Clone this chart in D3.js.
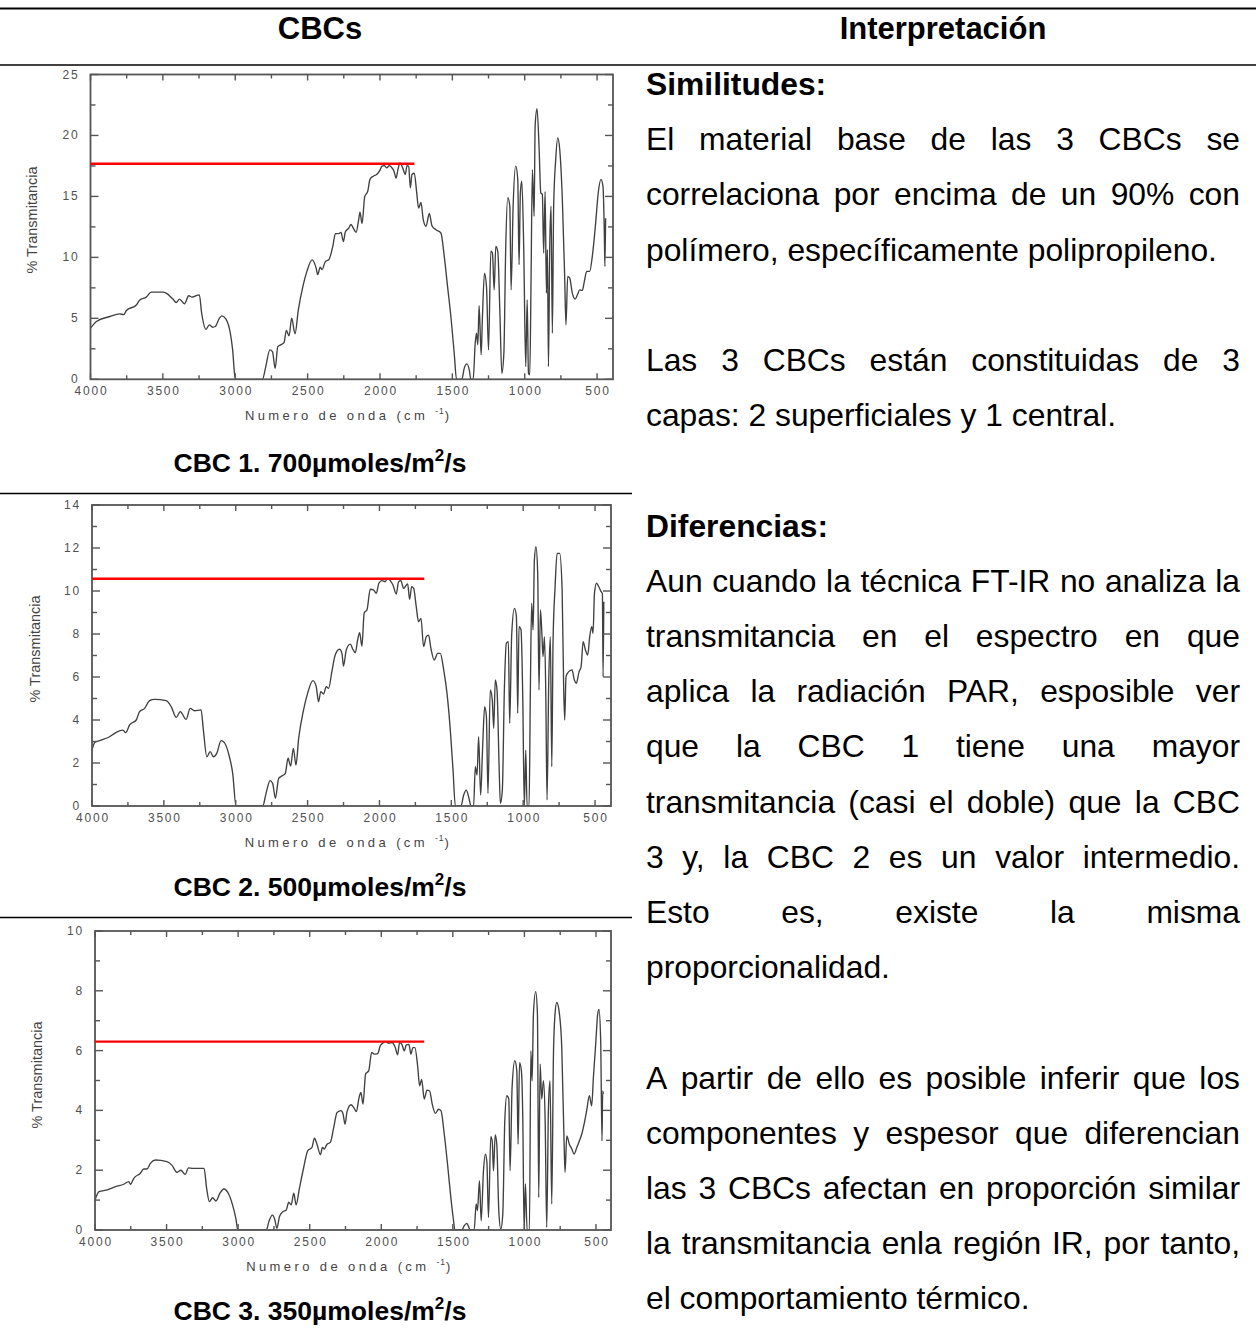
<!DOCTYPE html>
<html><head><meta charset="utf-8">
<script src="https://cdn.jsdelivr.net/npm/d3@7"></script>
<style>body{margin:0;background:#fff}svg{display:block}</style>
</head><body>
<svg id="c" width="1256" height="1339"></svg>
<script>
// ---------- DATA ----------
const cbc1Wavenumber = [4000,3959,3867,3798,3770,3752,3683,3660,3615,3580,3500,3477,3431,3408,3385,3351,3321,3298,3248,3232,3202,3179,3156,3138,3110,3092,3064,3034,3018,3002,2992,2812,2789,2761,2743,2724,2706,2686,2663,2647,2628,2610,2587,2564,2533,2505,2469,2441,2430,2413,2400,2377,2354,2326,2308,2285,2269,2253,2239,2216,2200,2184,2165,2147,2138,2124,2105,2085,2069,2046,2023,2004,1986,1970,1954,1935,1917,1903,1889,1876,1862,1843,1825,1813,1802,1790,1779,1763,1747,1733,1717,1701,1682,1659,1641,1613,1579,1556,1533,1510,1487,1471,1434,1418,1400,1383,1372,1356,1342,1333,1324,1315,1301,1292,1278,1264,1250,1234,1223,1211,1200,1186,1172,1158,1144,1131,1117,1103,1094,1080,1062,1048,1039,1030,1020,1007,993,983,974,965,956,947,935,928,915,901,889,878,869,859,850,843,836,827,818,809,800,786,772,758,740,724,715,703,689,671,652,636,620,602,588,572,551,533,510,492,473,459,450,446,441];
const cbc1Transmittance = [4.19,4.74,5.15,5.37,5.3,5.64,6.1,6.5,6.74,7.15,7.15,7.07,6.58,6.3,6.58,6.2,6.85,6.74,6.93,5.42,4.1,4.47,4.27,4.33,5.0,5.2,4.93,3.78,2.41,0.2,0,0,1.04,2.41,2.27,0.9,2.68,2.82,3.01,4.0,3.56,5.01,3.73,5.7,7.6,8.85,9.8,9.12,8.58,9.2,9.0,9.67,9.8,10.9,11.95,11.95,12.05,11.3,12.1,12.4,12.7,12.4,12.05,13.1,13.7,12.77,15.0,15.4,16.4,16.66,16.8,17.07,17.48,17.53,17.34,17.53,17.34,17.07,16.5,17.2,17.75,17.34,16.8,17.53,17.48,15.7,16.8,16.9,15.4,14.05,14.5,13.1,12.55,13.6,12.6,12.27,12.0,10.1,7.6,5.15,2.14,0,0,0.9,1.26,0.77,0,0,2.96,3.78,2.82,6.03,2.0,5.15,8.71,7.6,2.41,10.5,10.36,7.34,10.9,10.5,5.7,0.49,2.14,10.9,14.9,14.2,7.34,14.2,17.48,16.4,9.4,15.3,16.25,10.9,1.04,6.52,0.49,0.36,8.44,17.2,13.37,20.77,22.2,19.1,15.3,15.15,10.36,15.4,7.07,10.63,1.04,10.9,14.2,3.78,14.2,18.0,19.8,18.85,14.74,8.44,4.47,8.44,8.3,7.07,6.58,6.93,7.34,7.29,8.03,8.85,8.85,10.08,12.8,15.3,16.4,15.8,12.0,9.26,13.2];

const cbc2Wavenumber = [4000,3981,3947,3877,3843,3785,3766,3738,3692,3669,3634,3600,3565,3484,3449,3414,3386,3345,3317,3287,3241,3225,3201,3178,3155,3132,3102,3079,3044,3021,2998,2812,2789,2761,2743,2724,2701,2678,2655,2636,2618,2599,2581,2562,2528,2500,2463,2440,2424,2408,2389,2370,2354,2331,2308,2278,2261,2250,2231,2203,2185,2168,2152,2138,2122,2106,2087,2064,2041,2022,2004,1983,1960,1943,1925,1906,1883,1867,1851,1832,1813,1804,1790,1776,1762,1744,1728,1711,1693,1674,1658,1642,1619,1595,1577,1553,1530,1507,1488,1472,1433,1414,1396,1377,1363,1345,1333,1321,1310,1296,1282,1268,1256,1245,1229,1215,1205,1194,1182,1168,1159,1145,1131,1117,1103,1094,1080,1061,1047,1038,1029,1015,1003,992,982,973,959,950,941,931,922,911,899,890,880,871,862,852,843,834,822,811,801,792,778,764,746,729,718,711,702,683,660,644,630,611,597,583,567,551,537,523,514,504,490,474,458,449,444,439];
const cbc2Transmittance = [2.6,2.95,3.04,3.22,3.38,3.53,3.41,3.77,4.0,4.39,4.54,4.9,4.96,4.9,4.62,4.12,4.39,4.03,4.54,4.43,4.47,3.53,2.29,2.53,2.29,2.45,3.04,2.95,2.29,1.52,0,0,0.59,1.18,1.05,0.36,1.29,1.4,1.52,2.22,1.86,2.68,1.9,3.15,4.47,5.24,5.83,5.55,4.85,5.32,5.21,5.55,5.47,6.25,7.02,7.29,7.1,6.51,7.26,7.53,7.29,7.13,7.72,8.06,7.44,8.99,9.12,10.08,10.05,9.89,10.36,10.48,10.43,10.59,10.48,10.28,9.86,10.43,10.48,10.12,10.28,10.33,9.61,10.2,10.12,9.27,8.57,8.73,7.41,7.88,7.95,7.33,6.79,7.1,7.1,6.33,5.24,3.53,1.67,0,0,0.51,0.74,0.36,0,0,1.83,1.44,3.22,0.51,2.76,4.62,4.16,0.59,5.4,4.93,3.61,5.86,5.4,1.98,0.12,0.74,5.4,7.57,7.64,3.84,7.95,9.19,8.81,4.31,8.34,8.19,5.09,0,2.6,0,0,5.4,9.43,8.19,11.44,12.06,10.82,5.4,9.12,8.19,6.95,7.88,5.4,0.28,5.86,7.88,1.83,7.72,10.2,11.75,11.75,10.05,5.4,4.0,6.02,6.25,6.33,5.86,5.71,6.25,6.48,7.64,7.26,7.02,7.88,8.34,8.03,9.89,10.36,10.2,9.97,9.89,6.02,9.5];

const cbc3Wavenumber = [4000,3972,3914,3856,3799,3764,3752,3729,3683,3660,3637,3613,3579,3498,3463,3428,3400,3370,3347,3317,3271,3238,3220,3201,3178,3155,3127,3099,3069,3039,3016,3002,2803,2785,2761,2745,2729,2711,2687,2664,2646,2630,2611,2595,2572,2542,2514,2484,2467,2449,2425,2411,2398,2379,2356,2332,2309,2281,2267,2253,2239,2211,2193,2174,2156,2142,2128,2109,2088,2067,2049,2025,2007,1984,1965,1949,1925,1902,1886,1872,1856,1839,1825,1807,1793,1779,1765,1746,1732,1718,1700,1681,1662,1644,1621,1600,1583,1560,1537,1514,1495,1486,1437,1421,1402,1388,1379,1351,1337,1328,1314,1302,1286,1272,1262,1251,1235,1225,1216,1204,1193,1179,1165,1151,1137,1123,1109,1100,1086,1067,1053,1044,1034,1021,1011,1002,993,981,965,955,946,937,921,909,900,890,879,867,855,844,832,821,809,797,786,774,755,739,723,716,704,686,669,653,634,616,599,583,565,546,530,518,502,488,479,467,458,453,448];
const cbc3Transmittance = [1.0,1.28,1.34,1.45,1.53,1.62,1.53,1.73,1.9,2.04,2.04,2.23,2.34,2.29,2.17,1.93,2.0,1.86,2.08,2.06,2.06,2.06,1.39,0.95,1.08,0.97,1.23,1.37,1.23,0.84,0.39,0,0,0.28,0.5,0.37,0.06,0.45,0.61,0.67,0.93,0.84,1.23,0.84,1.39,2.09,2.65,2.76,3.07,2.87,2.52,2.76,2.71,2.87,2.93,3.43,3.93,3.99,3.88,3.54,3.96,4.19,4.1,3.96,4.41,4.6,4.21,5.23,5.32,5.94,5.88,5.9,6.16,6.27,6.3,6.24,6.27,6.1,5.86,6.27,6.21,5.99,6.19,6.21,5.88,6.1,6.1,5.49,4.82,5.04,4.38,4.68,4.65,4.21,3.9,4.04,3.99,3.21,2.2,1.09,0.31,0,0,0.14,0.22,0.09,0,0,0.87,0.65,1.65,0.31,1.98,2.54,2.26,0.42,3.12,2.98,1.98,3.18,2.87,0.65,0.03,0.53,3.65,4.49,4.38,1.98,4.77,5.66,5.32,2.87,5.6,5.32,3.65,0,1.54,0,0,5.99,4.99,7.22,7.97,7.22,1.09,5.55,4.38,4.99,3.65,0.09,4.1,4.99,0.87,5.88,7.22,7.61,7.22,6.1,2.98,1.93,3.15,2.87,2.71,2.54,2.76,2.98,3.21,3.54,3.99,4.49,4.15,5.1,6.21,7.22,7.38,6.33,2.98,4.65,4.55];

const xTickLabels = [4000,3500,3000,2500,2000,1500,1000,500];
const xMinorTicks = [3750,3250,2750,2250,1750,1250,750];
const cbc1YTicks = [0,5,10,15,20,25];
const cbc2YTicks = [0,2,4,6,8,10,12,14];
const cbc3YTicks = [0,2,4,6,8,10];
const referenceLevels = [17.68, 10.57, 6.3];      // red reference line values (% T)
const referenceEnds = [1762, 1688, 1700];          // wavenumber where red line stops
const captionTexts = ["CBC 1. 700µmoles/m", "CBC 2. 500µmoles/m", "CBC 3. 350µmoles/m"];
const headerLabels = ["CBCs", "Interpretación"];
const yAxisTitle = "% Transmitancia";
const xAxisTitle = "Numero de onda (cm";

const interpretationLines = [
  {t:"Similitudes:", b:true, j:false},
  {t:"El material base de las 3 CBCs se", j:true},
  {t:"correlaciona por encima de un 90% con", j:true},
  {t:"polímero, específicamente polipropileno.", j:false},
  null,
  {t:"Las 3 CBCs están constituidas de 3", j:true},
  {t:"capas: 2 superficiales y 1 central.", j:false},
  null,
  {t:"Diferencias:", b:true, j:false},
  {t:"Aun cuando la técnica FT-IR no analiza la", j:true},
  {t:"transmitancia en el espectro en que", j:true},
  {t:"aplica la radiación PAR, esposible ver", j:true},
  {t:"que la CBC 1 tiene una mayor", j:true},
  {t:"transmitancia (casi el doble) que la CBC", j:true},
  {t:"3 y, la CBC 2 es un valor intermedio.", j:true},
  {t:"Esto es, existe la misma", j:true},
  {t:"proporcionalidad.", j:false},
  null,
  {t:"A partir de ello es posible inferir que los", j:true},
  {t:"componentes y espesor que diferencian", j:true},
  {t:"las 3 CBCs afectan en proporción similar", j:true},
  {t:"la transmitancia enla región IR, por tanto,", j:true},
  {t:"el comportamiento térmico.", j:false}
];

// ---------- LAYOUT ----------
const FONT = "'Liberation Sans', Arial, Helvetica, sans-serif";
const svg = d3.select("#c");
const AX = "#555";

// table rules
svg.append("line").attr("x1",0).attr("x2",1256).attr("y1",8.5).attr("y2",8.5).attr("stroke","#000").attr("stroke-width",2);
svg.append("line").attr("x1",0).attr("x2",1256).attr("y1",65).attr("y2",65).attr("stroke","#000").attr("stroke-width",1.6);
[493.5, 917.5].forEach(y => svg.append("line").attr("x1",0).attr("x2",632).attr("y1",y).attr("y2",y).attr("stroke","#000").attr("stroke-width",1.4));

// headers
svg.append("text").attr("x",320).attr("y",39).attr("text-anchor","middle").attr("font-family",FONT)
  .attr("font-weight","bold").attr("font-size",31).text(headerLabels[0]);
svg.append("text").attr("x",943).attr("y",39).attr("text-anchor","middle").attr("font-family",FONT)
  .attr("font-weight","bold").attr("font-size",31).text(headerLabels[1]);

const layouts = [
  {left:90.5, right:613, top:74.5, bottom:379.3, xEnd:390, yLabelX:32, yLabelY:220, captionY:472},
  {left:92, right:611, top:505, bottom:806, xEnd:389, yLabelX:35, yLabelY:649, captionY:896},
  {left:95, right:611, top:931, bottom:1230, xEnd:395, yLabelX:37, yLabelY:1075, captionY:1320}
];
const series = [
  {wn:cbc1Wavenumber, t:cbc1Transmittance, yTicks:cbc1YTicks},
  {wn:cbc2Wavenumber, t:cbc2Transmittance, yTicks:cbc2YTicks},
  {wn:cbc3Wavenumber, t:cbc3Transmittance, yTicks:cbc3YTicks}
];

series.forEach((s, i) => {
  const L = layouts[i];
  const yMax = d3.max(s.yTicks);
  const x = d3.scaleLinear().domain([4000, L.xEnd]).range([L.left, L.right]);
  const y = d3.scaleLinear().domain([0, yMax]).range([L.bottom, L.top]);
  const g = svg.append("g");
  const step = s.yTicks[1] - s.yTicks[0];
  const yMinor = d3.range(step/2, yMax, step);

  const clipId = "clip" + i;
  svg.append("clipPath").attr("id", clipId).append("rect")
    .attr("x", L.left).attr("y", L.top).attr("width", L.right - L.left).attr("height", L.bottom - L.top);

  // spectrum
  const pts = s.wn.map((w, k) => [w, s.t[k]]);
  const line = d3.line().x(d => x(d[0])).y(d => y(d[1])).curve(d3.curveMonotoneX);
  g.append("path").datum(pts).attr("d", line).attr("fill","none")
    .attr("stroke","#404040").attr("stroke-width",1.35).attr("stroke-linejoin","round")
    .attr("clip-path",`url(#${clipId})`);

  // ticks (inward) on all four sides
  const tk = g.append("g").attr("stroke", AX).attr("stroke-width", 1.4);
  xTickLabels.forEach(v => {
    tk.append("line").attr("x1",x(v)).attr("x2",x(v)).attr("y1",L.bottom).attr("y2",L.bottom-6);
    tk.append("line").attr("x1",x(v)).attr("x2",x(v)).attr("y1",L.top).attr("y2",L.top+6);
  });
  xMinorTicks.forEach(v => {
    tk.append("line").attr("x1",x(v)).attr("x2",x(v)).attr("y1",L.bottom).attr("y2",L.bottom-4);
    tk.append("line").attr("x1",x(v)).attr("x2",x(v)).attr("y1",L.top).attr("y2",L.top+4);
  });
  s.yTicks.forEach(v => {
    tk.append("line").attr("x1",L.left).attr("x2",L.left+8).attr("y1",y(v)).attr("y2",y(v));
    tk.append("line").attr("x1",L.right).attr("x2",L.right-8).attr("y1",y(v)).attr("y2",y(v));
  });
  yMinor.forEach(v => {
    tk.append("line").attr("x1",L.left).attr("x2",L.left+5).attr("y1",y(v)).attr("y2",y(v));
    tk.append("line").attr("x1",L.right).attr("x2",L.right-5).attr("y1",y(v)).attr("y2",y(v));
  });

  // frame
  g.append("rect").attr("x",L.left).attr("y",L.top).attr("width",L.right-L.left).attr("height",L.bottom-L.top)
    .attr("fill","none").attr("stroke",AX).attr("stroke-width",1.8);

  // red reference line
  g.append("line").attr("x1",L.left).attr("x2",x(referenceEnds[i]))
    .attr("y1",y(referenceLevels[i])).attr("y2",y(referenceLevels[i]))
    .attr("stroke","#ff0000").attr("stroke-width",2.4);

  // tick labels
  xTickLabels.forEach(v => {
    g.append("text").attr("x",x(v)+1).attr("y",L.bottom+16).attr("text-anchor","middle")
      .attr("font-family",FONT).attr("font-size",12).attr("letter-spacing","1.8px").attr("fill","#505050").text(v);
  });
  s.yTicks.forEach(v => {
    g.append("text").attr("x",L.left-11).attr("y",y(v)+4).attr("text-anchor","end")
      .attr("font-family",FONT).attr("font-size",12).attr("letter-spacing","1.8px").attr("fill","#505050").text(v);
  });

  // axis titles
  const xt = g.append("text").attr("x",(L.left+L.right)/2 - 3).attr("y",L.bottom+41).attr("text-anchor","middle")
    .attr("font-family",FONT).attr("font-size",13).attr("letter-spacing","3.4px").attr("fill","#444");
  xt.append("tspan").text(xAxisTitle + " ");
  xt.append("tspan").attr("font-size",8.5).attr("dy",-6).attr("letter-spacing","1px").text("-1");
  xt.append("tspan").attr("dy",6).text(")");

  g.append("text").attr("transform",`translate(${L.yLabelX},${L.yLabelY}) rotate(-90)`)
    .attr("text-anchor","middle").attr("dominant-baseline","central")
    .attr("font-family",FONT).attr("font-size",14.5).attr("fill","#444").text(yAxisTitle);

  // caption
  const cap = svg.append("text").attr("x",320).attr("y",L.captionY).attr("text-anchor","middle")
    .attr("font-family",FONT).attr("font-weight","bold").attr("font-size",26.5).attr("fill","#000");
  cap.append("tspan").text(captionTexts[i]);
  cap.append("tspan").attr("font-size",17).attr("dy",-11).text("2");
  cap.append("tspan").attr("dy",11).text("/s");
});

// ---------- interpretation text (justified) ----------
const X0 = 646, X1 = 1240, BASE0 = 95, LH = 55.2;
const tg = svg.append("g").attr("font-family", FONT).attr("font-size", 31.8).attr("fill","#000");
function measure(txt, bold){
  const t = tg.append("text").attr("font-weight", bold ? "bold":"normal").text(txt);
  const w = t.node().getComputedTextLength(); t.remove(); return w;
}
const spaceW = measure("a a") - measure("aa");
interpretationLines.forEach((ln, k) => {
  if (!ln) return;
  const yb = BASE0 + k * LH;
  const words = ln.t.split(" ");
  const ws = words.map(w => measure(w, ln.b));
  const total = d3.sum(ws);
  const gap = (ln.j && words.length > 1) ? (X1 - X0 - total) / (words.length - 1) : spaceW;
  let xx = X0;
  words.forEach((w, m) => {
    tg.append("text").attr("x", xx).attr("y", yb).attr("font-weight", ln.b ? "bold" : "normal").text(w);
    xx += ws[m] + gap;
  });
});
</script>
</body></html>
